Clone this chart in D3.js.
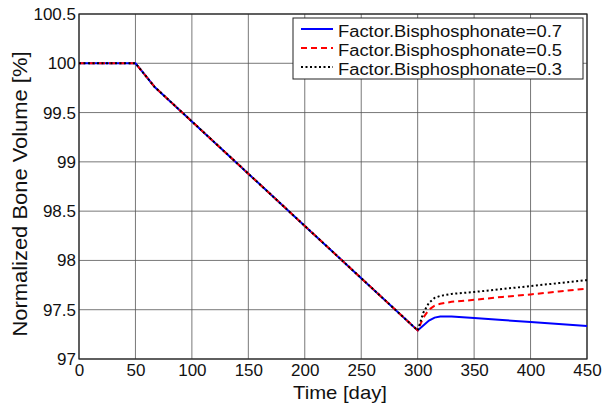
<!DOCTYPE html>
<html>
<head>
<meta charset="utf-8">
<script src="https://cdn.jsdelivr.net/npm/d3@7"></script>
<style>
  html, body { margin: 0; padding: 0; background: #fff; }
  svg { display: block; font-family: Arial, "Liberation Sans", sans-serif; }
</style>
</head>
<body>
<svg id="chart" width="603" height="405"></svg>
<script>
// Simulation time points (days)
const days = [0, 25, 50, 55, 60, 67, 100, 150, 200, 250, 300, 305, 310, 315, 320, 330, 350, 375, 400, 425, 450];

// Normalized bone volume [%] for each bisphosphonate factor
const factor07 = [100, 100, 100, 99.93, 99.86, 99.76, 99.41, 98.88, 98.35, 97.82, 97.29, 97.34, 97.39, 97.42, 97.43, 97.43, 97.415, 97.395, 97.375, 97.355, 97.335];
const factor05 = [100, 100, 100, 99.93, 99.86, 99.76, 99.41, 98.88, 98.35, 97.82, 97.29, 97.42, 97.50, 97.54, 97.56, 97.58, 97.60, 97.63, 97.655, 97.685, 97.715];
const factor03 = [100, 100, 100, 99.93, 99.86, 99.76, 99.41, 98.88, 98.35, 97.82, 97.29, 97.47, 97.57, 97.62, 97.64, 97.66, 97.68, 97.71, 97.74, 97.77, 97.80];

const seriesNames = ["Factor.Bisphosphonate=0.7", "Factor.Bisphosphonate=0.5", "Factor.Bisphosphonate=0.3"];
const xTicks = [0, 50, 100, 150, 200, 250, 300, 350, 400, 450];
const yTicks = [97, 97.5, 98, 98.5, 99, 99.5, 100, 100.5];
const yTickLabels = ["97", "97.5", "98", "98.5", "99", "99.5", "100", "100.5"];

const series = [
  { name: seriesNames[0], values: factor07, color: "#0000ff", dash: null, width: 2 },
  { name: seriesNames[1], values: factor05, color: "#ff0000", dash: "6,4", width: 2 },
  { name: seriesNames[2], values: factor03, color: "#000000", dash: "2,2.5", width: 2 }
];

const svg = d3.select("#chart");
const margin = { left: 79, top: 14, right: 16, bottom: 46 };
const W = 603, H = 405;
const x = d3.scaleLinear().domain([0, 450]).range([margin.left, W - margin.right]);
const y = d3.scaleLinear().domain([97, 100.5]).range([H - margin.bottom, margin.top]);
const FONT = "Arial, 'Liberation Sans', sans-serif";

// Grid lines
const grid = svg.append("g");
grid.selectAll("line.vx").data(xTicks).join("line")
  .attr("x1", d => x(d)).attr("x2", d => x(d))
  .attr("y1", y(97)).attr("y2", y(100.5))
  .attr("stroke", "#555").attr("stroke-width", 0.8);
grid.selectAll("line.hy").data(yTicks).join("line")
  .attr("x1", x(0)).attr("x2", x(450))
  .attr("y1", d => y(d)).attr("y2", d => y(d))
  .attr("stroke", "#555").attr("stroke-width", 0.8);

// Axes
const xAxis = d3.axisBottom(x).tickValues(xTicks).tickSize(0).tickPadding(5).tickFormat(d3.format("d"));
const yAxis = d3.axisLeft(y).tickValues(yTicks).tickSize(0).tickPadding(3)
  .tickFormat((d, i) => yTickLabels[i]);

const gx = svg.append("g").attr("transform", `translate(0,${y(97)})`).call(xAxis);
gx.select(".domain").remove();
gx.selectAll("text").attr("font-size", 17).attr("fill", "#111").attr("font-family", FONT);

const gy = svg.append("g").attr("transform", `translate(${x(0)},0)`).call(yAxis);
gy.select(".domain").remove();
gy.selectAll("text").attr("font-size", 17).attr("fill", "#111").attr("font-family", FONT);

// Plot frame
svg.append("rect")
  .attr("x", x(0)).attr("y", y(100.5))
  .attr("width", x(450) - x(0)).attr("height", y(97) - y(100.5))
  .attr("fill", "none").attr("stroke", "#222").attr("stroke-width", 1.2);

// Lines
const line = d3.line().x((d, i) => x(days[i])).y(d => y(d));
const gLines = svg.append("g");
series.forEach(s => {
  gLines.append("path")
    .attr("d", line(s.values))
    .attr("fill", "none")
    .attr("stroke", s.color)
    .attr("stroke-width", s.width)
    .attr("stroke-dasharray", s.dash);
});

// Legend
const lg = svg.append("g");
const lx0 = 293, ly0 = 18, lw = 290, lh = 61;
lg.append("rect").attr("x", lx0).attr("y", ly0).attr("width", lw).attr("height", lh)
  .attr("fill", "#fff").attr("stroke", "#222").attr("stroke-width", 1);
series.forEach((s, i) => {
  const cy = ly0 + 11 + i * 19;
  lg.append("line")
    .attr("x1", lx0 + 8).attr("x2", lx0 + 40)
    .attr("y1", cy).attr("y2", cy)
    .attr("stroke", s.color).attr("stroke-width", s.width)
    .attr("stroke-dasharray", s.dash);
  lg.append("text")
    .attr("x", lx0 + 45).attr("y", cy + 8)
    .attr("font-size", 16).attr("fill", "#111")
    .attr("textLength", 224).attr("lengthAdjust", "spacingAndGlyphs")
    .text(s.name);
});

// Axis titles
svg.append("text")
  .attr("x", 340).attr("y", 399)
  .attr("text-anchor", "middle").attr("font-size", 19).attr("fill", "#111")
  .attr("textLength", 94).attr("lengthAdjust", "spacingAndGlyphs")
  .text("Time [day]");
svg.append("text")
  .attr("transform", `translate(27,194) rotate(-90)`)
  .attr("text-anchor", "middle").attr("font-size", 21).attr("fill", "#111")
  .attr("textLength", 285).attr("lengthAdjust", "spacingAndGlyphs")
  .text("Normalized Bone Volume [%]");
</script>
</body>
</html>
